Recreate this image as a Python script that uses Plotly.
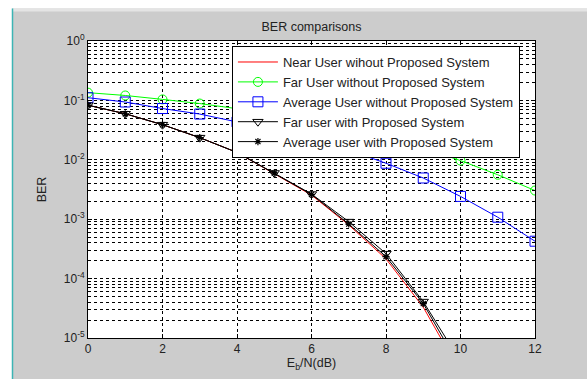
import plotly.graph_objects as go

snr = [0, 1, 2, 3, 4, 5, 6, 7, 8, 9, 10, 11, 12]
snr_prop = [0, 1, 2, 3, 4, 5, 6, 7, 8, 9, 10]

near_without = [0.083, 0.0596, 0.039, 0.0236, 0.0133, 0.0059, 0.00255, 0.0008, 0.000215, 3.3e-5, 2.6e-6]
far_without = [0.135, 0.121, 0.104, 0.0885, 0.0726, 0.059, 0.0467, 0.0366, 0.0242, 0.0159, 0.0097, 0.0056, 0.00304]
avg_without = [0.111, 0.094, 0.073, 0.0589, 0.0434, 0.0311, 0.0227, 0.0145, 0.00875, 0.00494, 0.00242, 0.00108, 0.000426]
far_with = [0.083, 0.0596, 0.039, 0.0236, 0.0133, 0.006, 0.00265, 0.00091, 0.000263, 4.1e-5, 4e-6]
avg_with = [0.083, 0.0596, 0.039, 0.0236, 0.0133, 0.00598, 0.00261, 0.00083, 0.000234, 3.8e-5, 3.1e-6]

ytick_vals = [1, 0.1, 0.01, 0.001, 0.0001, 0.00001]
ytick_text = ["10<sup>0</sup>", "10<sup>-1</sup>", "10<sup>-2</sup>", "10<sup>-3</sup>", "10<sup>-4</sup>", "10<sup>-5</sup>"]
xtick_vals = [0, 2, 4, 6, 8, 10, 12]

fig = go.Figure()
fig.add_trace(go.Scatter(x=snr_prop, y=near_without, mode="lines", name="Near User wihout Proposed System",
                         line=dict(color="#ff0000", width=1)))
fig.add_trace(go.Scatter(x=snr, y=far_without, mode="lines+markers", name="Far User without Proposed System",
                         line=dict(color="#00ff00", width=1),
                         marker=dict(symbol="circle-open", size=9, color="#00ff00", line=dict(width=1))))
fig.add_trace(go.Scatter(x=snr, y=avg_without, mode="lines+markers", name="Average User without Proposed System",
                         line=dict(color="#0000ff", width=1),
                         marker=dict(symbol="square-open", size=10, color="#0000ff", line=dict(width=1))))
fig.add_trace(go.Scatter(x=snr_prop, y=far_with, mode="lines+markers", name="Far user with Proposed System",
                         line=dict(color="#000000", width=1),
                         marker=dict(symbol="triangle-down-open", size=9, color="#000000", line=dict(width=1))))
fig.add_trace(go.Scatter(x=snr_prop, y=avg_with, mode="lines+markers", name="Average user with Proposed System",
                         line=dict(color="#000000", width=1),
                         marker=dict(symbol="asterisk-open", size=6, color="#000000", line=dict(width=1.2))))

fig.update_layout(
    width=587, height=379,
    margin=dict(l=88, r=52, t=41, b=36),
    paper_bgcolor="#cccccc",
    plot_bgcolor="#ffffff",
    hovermode=False,
    font=dict(family="Liberation Sans, Arial", size=12, color="#222222"),
    title=dict(text="BER comparisons", x=0.5, xref="paper", xanchor="center", y=0.929, yref="container", yanchor="middle",
               font=dict(size=12.5, color="#222222")),
    showlegend=True,
    legend=dict(x=0.322, y=0.983, xanchor="left", yanchor="top", bgcolor="#ffffff",
                bordercolor="#000000", borderwidth=1, font=dict(size=13, color="#222222"),
                tracegroupgap=0, itemwidth=40),
    shapes=[
        dict(type="rect", xref="paper", yref="paper", x0=-0.25, x1=-0.170, y0=-0.2, y1=1.2,
             fillcolor="#ffffff", line=dict(width=0), layer="below"),
        dict(type="rect", xref="paper", yref="paper", x0=-0.170, x1=1.2, y0=1.1093, y1=1.2,
             fillcolor="#ffffff", line=dict(width=0), layer="below"),
        dict(type="rect", xref="paper", yref="paper", x0=-0.170, x1=1.2, y0=1.0993, y1=1.1093,
             fillcolor="#e4e4e4", line=dict(width=0), layer="below"),
        dict(type="line", xref="paper", yref="paper", x0=-0.1689, x1=-0.1689, y0=-0.2, y1=1.1093,
             line=dict(color="#3cb4b4", width=1.5)),
    ],
)

fig.update_xaxes(range=[0, 12], tickvals=xtick_vals, ticks="inside", ticklen=4, tickcolor="#000000",
                 showline=True, linecolor="#000000", linewidth=1, mirror="ticks",
                 showgrid=True, gridcolor="#000000", griddash="dot", gridwidth=1,
                 zeroline=False, tickfont=dict(size=12),
                 title=dict(text="E<sub>b</sub>/N(dB)", font=dict(size=12.5), standoff=2))
fig.update_yaxes(type="log", range=[-5, 0], tickvals=ytick_vals, ticktext=ytick_text,
                 ticks="inside", ticklen=4, tickcolor="#000000",
                 showline=True, linecolor="#000000", linewidth=1, mirror="ticks",
                 showgrid=True, gridcolor="#000000", griddash="dot", gridwidth=1,
                 minor=dict(dtick="D1", showgrid=True, gridcolor="#000000", griddash="dot", gridwidth=1,
                            ticks="inside", ticklen=2, tickcolor="#000000"),
                 zeroline=False, tickfont=dict(size=12),
                 title=dict(text="BER", font=dict(size=12.5), standoff=14))

fig.write_html("out.html", config={"displayModeBar": False, "staticPlot": True},
               post_script="document.body.style.margin='0';document.body.style.overflow='hidden';")
